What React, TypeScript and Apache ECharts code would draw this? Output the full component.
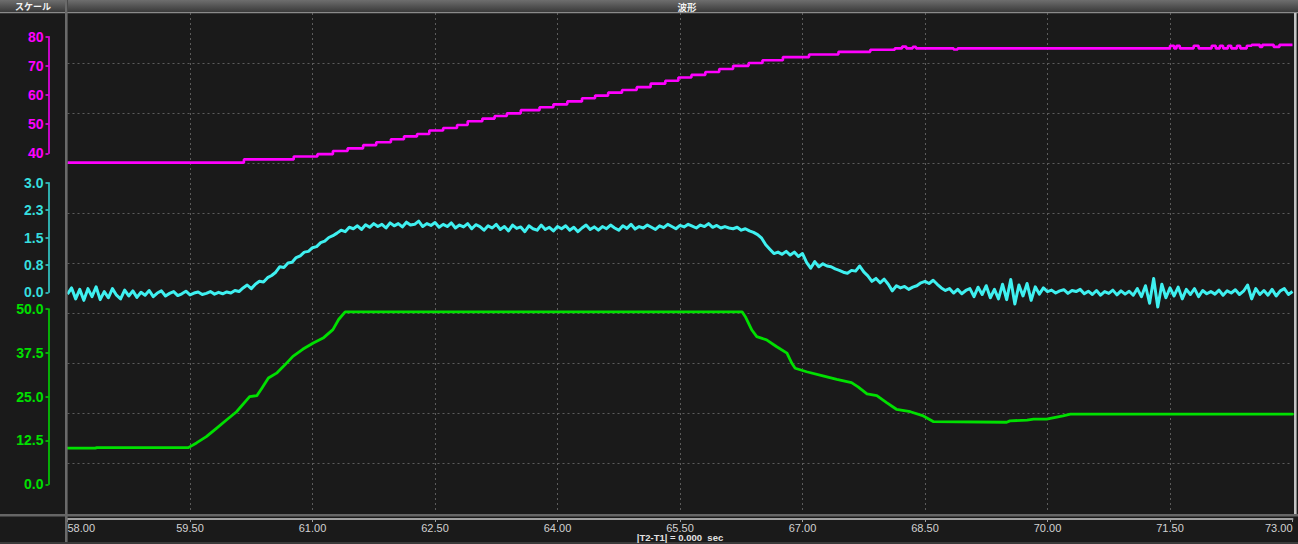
import React, { useEffect, useRef } from "react";
import * as echarts from "echarts";

// ---------- DATA ----------
const timeOrigin = 58; // seconds at left edge of the plot
const xTickLabels = ["58.00", "59.50", "61.00", "62.50", "64.00", "65.50", "67.00", "68.50", "70.00", "71.50", "73.00"];

const magentaTickLabels = ["40", "50", "60", "70", "80"];
const cyanTickLabels = ["0.0", "0.8", "1.5", "2.3", "3.0"];
const greenTickLabels = ["0.0", "12.5", "25.0", "37.5", "50.0"];

// magenta: stepped signal (time, value)
const magentaTimes = [
  58, 60.16, 60.77, 61.06, 61.25, 61.43, 61.62, 61.78, 61.96, 62.12, 62.28, 62.43, 62.6, 62.77, 62.9,
  63.08, 63.23, 63.38, 63.55, 63.78, 63.95, 64.12, 64.3, 64.46, 64.62, 64.79, 64.97, 65.14, 65.32, 65.48,
  65.64, 65.81, 65.98, 66.15, 66.34, 66.51, 66.76, 67.08, 67.44, 67.83, 68.13, 68.22, 68.27, 68.35, 68.39,
  68.85, 68.9, 71.5, 71.55, 71.58, 71.62, 71.79, 71.85, 72.01, 72.06, 72.11, 72.15, 72.21, 72.25, 72.32,
  72.36, 72.44, 72.5, 72.6, 72.63, 72.77, 72.84, 73,
];
const magentaValues = [
  36.8, 37.9, 38.9, 39.7, 40.8, 41.7, 42.8, 43.8, 44.8, 45.8, 46.6, 47.8, 48.7, 49.7, 51.0,
  51.9, 52.8, 53.7, 54.8, 55.8, 56.8, 57.8, 58.9, 59.8, 60.8, 61.7, 62.7, 63.9, 64.9, 66.0,
  66.9, 67.9, 68.9, 70.0, 71.0, 71.9, 73.0, 73.9, 74.8, 75.5, 76.0, 76.6, 76.0, 76.5, 76.0,
  75.6, 76.0, 76.9, 76.0, 76.9, 76.0, 76.9, 76.0, 76.9, 76.0, 76.9, 76.0, 76.9, 76.0, 76.9,
  76.0, 76.9, 77.2, 76.5, 77.2, 76.5, 77.2, 77.2,
];

// cyan: sampled signal, one value every cyanStep seconds from timeOrigin
const cyanStep = 0.05;
const cyanValues = [
  // 58.00 - 59.90
  -0.05, 0.12, -0.18, 0.08, -0.22, 0.1, -0.12, 0.15, -0.2, 0.02, -0.15, 0.1, -0.08, -0.18, 0.06, -0.1, 0.04, -0.14, 0.0, -0.08,
  0.05, -0.12, -0.02, 0.04, -0.1, -0.03, 0.02, -0.09, -0.04, 0.03, -0.07, -0.02, 0.01, -0.06, -0.03, 0.02, -0.05, 0.0, -0.04,
  // 59.95 - 61.50
  0.01, -0.02, 0.05, 0.02, 0.12, 0.2, 0.1, 0.22, 0.3, 0.28, 0.4, 0.46, 0.55, 0.7, 0.68, 0.8, 0.82, 0.95, 1.0, 1.1,
  1.12, 1.22, 1.25, 1.36, 1.4, 1.5, 1.55, 1.62, 1.7, 1.66, 1.78, 1.74,
  // 61.55 - 66.50
  1.82, 1.72, 1.85, 1.78, 1.88, 1.8, 1.86, 1.76, 1.9, 1.82,
  1.88, 1.79, 1.92, 1.84, 1.86, 1.95, 1.8, 1.88, 1.83, 1.91,
  1.78, 1.86, 1.8, 1.9, 1.76, 1.84, 1.79, 1.88, 1.74, 1.85,
  1.8, 1.7, 1.82, 1.76, 1.86, 1.72, 1.8, 1.68, 1.84, 1.75,
  1.79, 1.66, 1.82, 1.74, 1.7, 1.84, 1.72, 1.78, 1.68, 1.8,
  1.74, 1.82, 1.7, 1.78, 1.66, 1.76, 1.84, 1.72, 1.79, 1.7,
  1.8, 1.74, 1.84, 1.76, 1.7, 1.82, 1.75, 1.86, 1.73, 1.8,
  1.76, 1.84, 1.78, 1.72, 1.82, 1.77, 1.86, 1.8, 1.74, 1.83,
  1.79, 1.86, 1.81, 1.76, 1.84, 1.8, 1.88, 1.78, 1.83, 1.76,
  1.8, 1.76, 1.74, 1.78, 1.7, 1.74, 1.68, 1.64, 1.58, 1.48,
  // 66.55 - 69.00
  1.3, 1.18, 1.06, 1.1, 1.04, 1.12, 1.02, 1.1, 0.98, 1.06,
  0.82, 0.66, 0.84, 0.7, 0.78, 0.72, 0.7, 0.64, 0.6, 0.55,
  0.52, 0.6, 0.58, 0.72, 0.56, 0.45, 0.3, 0.38, 0.26, 0.36,
  0.22, 0.04, 0.18, 0.12, 0.16, 0.08, 0.14, 0.18, 0.26, 0.3,
  0.24, 0.33, 0.22, 0.12, 0.05, 0.1, -0.02, 0.08, -0.04, 0.05,
  // 69.05 - 73.00
  0.1, -0.12, 0.14, -0.06, 0.18, -0.15, 0.08, -0.18, 0.22, -0.2,
  0.35, -0.32, 0.2, -0.1, 0.24, -0.22, 0.15, -0.05, 0.12, 0.02,
  0.06, -0.02, 0.04, 0.07, -0.03, 0.05, 0.02, 0.08, -0.04, 0.03,
  -0.06, 0.05, -0.08, 0.02, -0.03, 0.06, -0.07, 0.04, -0.05, 0.03,
  -0.08, 0.1, -0.12, 0.18, -0.3, 0.38, -0.4, 0.22, -0.15, 0.12,
  -0.1, 0.14, -0.18, 0.08, -0.06, 0.1, -0.12, 0.05, -0.04, 0.02,
  -0.05, 0.06, -0.08, 0.04, -0.02, 0.07, -0.06, 0.03, 0.2, -0.18,
  0.1, -0.06, 0.05, -0.08, 0.08, -0.1, 0.04, 0.1, -0.06, 0.02,
];

// green: (time, value)
const greenTimes = [
  58, 58.34, 58.36, 59.48, 59.58, 59.7, 59.82, 59.95, 60.07, 60.23, 60.32, 60.38, 60.46, 60.56, 60.66, 60.76,
  60.88, 61.01, 61.13, 61.25, 61.32, 61.4, 66.26, 66.3, 66.38, 66.44, 66.56, 66.68, 66.81, 66.87, 66.91, 67.05,
  67.25, 67.42, 67.6, 67.68, 67.79, 67.91, 68.03, 68.15, 68.32, 68.48, 68.6, 69.5, 69.54, 69.75, 69.83, 69.99,
  70.19, 70.28, 73,
];
const greenValues = [
  10.3, 10.3, 10.45, 10.45, 11.8, 13.6, 15.9, 18.4, 20.7, 25.0, 25.3, 27.4, 30.3, 31.7, 34.0, 36.5,
  38.5, 40.3, 41.7, 44.1, 47.0, 49.2, 49.2, 47.8, 44.0, 42.1, 41.2, 39.3, 37.4, 34.5, 33.1, 32.1,
  30.9, 29.9, 29.0, 27.8, 25.8, 25.3, 23.3, 21.4, 20.7, 19.5, 17.9, 17.7, 18.1, 18.3, 18.6, 18.6,
  19.5, 20.0, 20.0,
];

// ---------- STYLE ----------
const MAG = "#ff00ff";
const CYAN = "#3ff0f0";
const GREEN = "#00e000";
const FONT = "'Liberation Sans', Arial, sans-serif";
const NARROW = "'Liberation Sans Narrow', 'Liberation Sans', Arial, sans-serif";
const CJK = "'Noto Sans CJK JP', sans-serif";

const PLOT_LEFT = 67.5;
const PLOT_WIDTH = 1225;

export default function App() {
  const ref = useRef<HTMLDivElement>(null);

  useEffect(() => {
    if (!ref.current) return;
    const chart = echarts.init(ref.current, undefined, { renderer: "svg" });

    const rel = (t: number) => t - timeOrigin;
    const magData = magentaTimes.map((t, i) => [rel(t), magentaValues[i]]);
    const cyanData = cyanValues.map((v, i) => [i * cyanStep, v]);
    const greenData = greenTimes.map((t, i) => [rel(t), greenValues[i]]);

    const gridLine = { color: "#5c5c5c", type: [2, 3] as any, width: 1 };

    const hiddenX = (gi: number) => ({
      gridIndex: gi, type: "value" as const, min: 0, max: 15, show: false,
    });

    const sideY = (gi: number, color: string, min: number, max: number, interval: number, labels: string[]) => ({
      gridIndex: gi,
      type: "value" as const,
      min, max, interval,
      position: "left" as const,
      offset: 19,
      axisLine: { show: true, onZero: false, lineStyle: { color, width: 1.5 } },
      axisTick: { show: true, length: 3, lineStyle: { color, width: 1.5 } },
      axisLabel: {
        color, fontSize: 14, fontWeight: "bold" as const, fontFamily: FONT, margin: 5,
        formatter: (v: number) => labels[Math.round((v - min) / interval)] ?? "",
      },
      splitLine: { show: false },
    });

    const headerGrad = new echarts.graphic.LinearGradient(0, 0, 0, 1, [
      { offset: 0, color: "#6e6e6e" },
      { offset: 1, color: "#3a3a3a" },
    ]);

    chart.setOption({
      animation: false,
      backgroundColor: "#1a1a1a",
      grid: [
        { left: PLOT_LEFT, top: 13, width: PLOT_WIDTH, height: 500 },
        { left: PLOT_LEFT, top: 36.7, width: PLOT_WIDTH, height: 116.6 },
        { left: PLOT_LEFT, top: 182.7, width: PLOT_WIDTH, height: 109.6 },
        { left: PLOT_LEFT, top: 309, width: PLOT_WIDTH, height: 175.3 },
      ],
      xAxis: [
        {
          gridIndex: 0, type: "value", min: 0, max: 15, interval: 1.5, position: "bottom", offset: 6,
          axisLine: { show: true, onZero: false, lineStyle: { color: "#a0a0a0", width: 2 } },
          axisTick: { show: true, length: 3, lineStyle: { color: "#a0a0a0", width: 1 } },
          axisLabel: {
            color: "#d2d2d2", fontSize: 11, fontFamily: NARROW, margin: 3,
            alignMinLabel: "left", alignMaxLabel: "right",
            formatter: (v: number) => xTickLabels[Math.round(v / 1.5)] ?? "",
          },
          splitLine: { show: true, showMinLine: false, showMaxLine: false, lineStyle: gridLine },
        },
        hiddenX(1), hiddenX(2), hiddenX(3),
      ],
      yAxis: [
        {
          gridIndex: 0, type: "value", min: 0, max: 10, interval: 1,
          axisLine: { show: false }, axisTick: { show: false }, axisLabel: { show: false },
          splitLine: { show: true, showMinLine: false, showMaxLine: false, lineStyle: gridLine },
        },
        sideY(1, MAG, 40, 80, 10, magentaTickLabels),
        sideY(2, "#36dede", 0, 3, 0.75, cyanTickLabels),
        sideY(3, GREEN, 0, 50, 12.5, greenTickLabels),
      ],
      series: [
        {
          type: "line", xAxisIndex: 1, yAxisIndex: 1, data: magData, step: "end",
          showSymbol: false, clip: false, lineStyle: { color: MAG, width: 2.6 }, z: 5,
        },
        {
          type: "line", xAxisIndex: 2, yAxisIndex: 2, data: cyanData,
          showSymbol: false, clip: false, lineStyle: { color: CYAN, width: 3, join: "round" }, z: 4,
        },
        {
          type: "line", xAxisIndex: 3, yAxisIndex: 3, data: greenData,
          showSymbol: false, clip: false, lineStyle: { color: GREEN, width: 2.8, join: "round", cap: "round" }, z: 3,
        },
      ],
      graphic: [
        { type: "rect", z: 100, shape: { x: 0, y: 0, width: 65, height: 12 }, style: { fill: headerGrad } },
        { type: "rect", z: 100, shape: { x: 68, y: 0, width: 1230, height: 12 }, style: { fill: headerGrad } },
        { type: "rect", z: 100, shape: { x: 0, y: 12, width: 1298, height: 1.2 }, style: { fill: "#8a8a8a" } },
        { type: "rect", z: 100, shape: { x: 65, y: 0, width: 2.6, height: 544 }, style: { fill: "#6a6a6a" } },
        { type: "rect", z: 100, shape: { x: 0, y: 514, width: 1298, height: 2.5 }, style: { fill: "#666666" } },
        { type: "rect", z: 100, shape: { x: 1294, y: 13, width: 2.6, height: 501 }, style: { fill: "#c4c4c4" } },
        { type: "rect", z: 100, shape: { x: 0, y: 542, width: 1298, height: 2 }, style: { fill: "#3a3a3a" } },
        {
          type: "text", z: 101, x: 33, y: 6.5,
          style: { text: "スケール", fill: "#f2f2f2", font: `bold 9px ${CJK}`, textAlign: "center", textVerticalAlign: "middle" },
        },
        {
          type: "text", z: 101, x: 687, y: 6.5,
          style: { text: "波形", fill: "#f2f2f2", font: `bold 9.5px ${CJK}`, textAlign: "center", textVerticalAlign: "middle" },
        },
        {
          type: "text", z: 101, x: 680, y: 537.5,
          style: { text: "|T2-T1| = 0.000\u00a0\u00a0sec", fill: "#e2e2e2", font: `bold 9.5px ${FONT}`, textAlign: "center", textVerticalAlign: "middle" },
        },
      ],
    });

    return () => chart.dispose();
  }, []);

  return <div ref={ref} style={{ position: "absolute", left: 0, top: 0, width: 1298, height: 544 }} />;
}
